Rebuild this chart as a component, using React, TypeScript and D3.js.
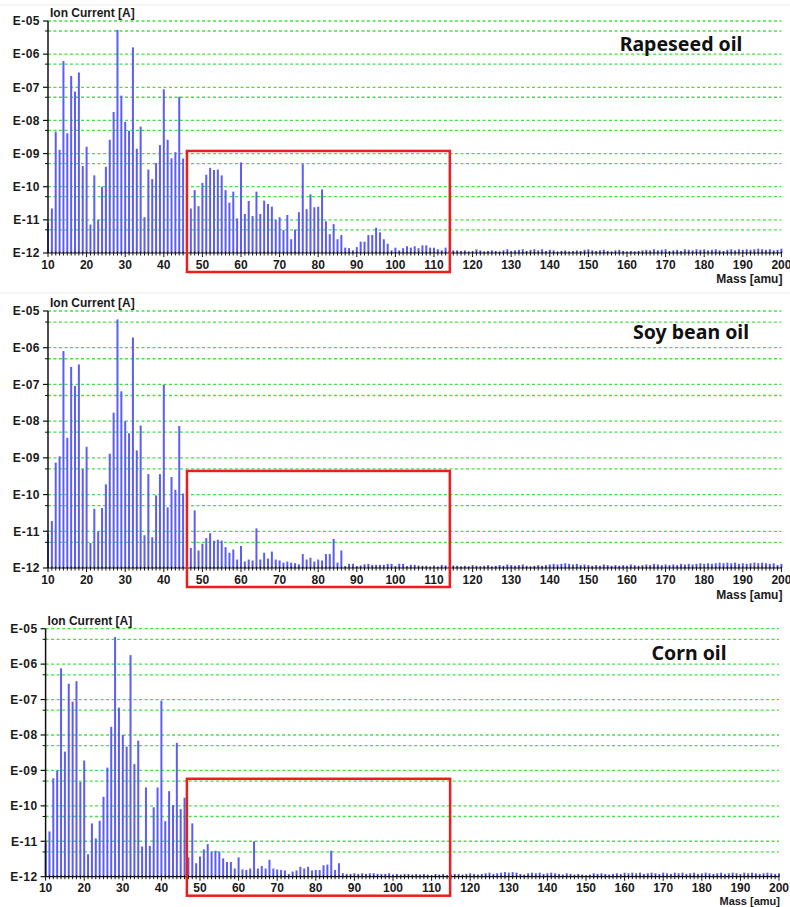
import React from "react";
import * as d3 from "d3";

// Mass axis: one bar per integer mass from 10 to 200 amu
const masses: number[] = d3.range(10, 201);

// Ion current [A] per mass, 10 … 200 amu
const rapeseedOil: number[] = [
  8.1e-12, 2.2e-11, 4.6e-9, 1.3e-9, 6.2e-7, 4.1e-9, 2.2e-7, 7.4e-8, 2.8e-7, 4.2e-10,
  1.6e-9, 7.2e-12, 2.2e-10, 1.0e-11, 1.0e-10, 4.0e-10, 2.6e-9, 1.8e-8, 5.4e-6, 5.6e-8,
  9.1e-9, 4.9e-9, 1.6e-6, 1.4e-9, 6.5e-9, 1.2e-11, 3.3e-10, 1.7e-10, 5.2e-10, 1.8e-9,
  8.7e-8, 2.6e-9, 7.2e-10, 1.1e-9, 5.2e-8, 7.1e-10, 3.2e-10, 2.2e-11, 7.9e-11, 2.6e-11,
  1.3e-10, 2.3e-10, 3.7e-10, 3.2e-10, 3.3e-10, 2.2e-10, 7.9e-11, 3.3e-11, 7.1e-11, 1.1e-11,
  5.4e-10, 1.5e-11, 3.7e-11, 1.3e-11, 7.1e-11, 1.5e-11, 3.8e-11, 3.0e-11, 2.5e-11, 1.0e-11,
  1.2e-11, 4.9e-12, 1.4e-11, 2.6e-12, 5.1e-12, 1.7e-11, 4.8e-10, 2.1e-11, 5.9e-11, 2.4e-11,
  2.5e-11, 8.3e-11, 9.1e-12, 3.7e-12, 7.4e-12, 2.6e-12, 3.5e-12, 1.45e-12, 1.4e-12, 1.2e-12,
  1.5e-12, 2.2e-12, 2.2e-12, 3.5e-12, 3.5e-12, 5.8e-12, 4.2e-12, 2.6e-12, 1.9e-12, 1.2e-12,
  1.45e-12, 1.2e-12, 1.4e-12, 1.6e-12, 1.45e-12, 1.6e-12, 1.4e-12, 1.7e-12, 1.7e-12, 1.45e-12,
  1.45e-12, 1.3e-12, 1.2e-12, 1.45e-12, 1.15e-12, 1.2e-12, 1.2e-12, 1.15e-12, 1.2e-12, 1.1e-12,
  1.15e-12, 1.3e-12, 1.2e-12, 1.1e-12, 1.15e-12, 1.2e-12, 1.15e-12, 1.1e-12, 1.2e-12, 1.3e-12,
  1.15e-12, 1.2e-12, 1.25e-12, 1.3e-12, 1.15e-12, 1.25e-12, 1.3e-12, 1.2e-12, 1.3e-12, 1.15e-12,
  1.25e-12, 1.2e-12, 1.1e-12, 1.15e-12, 1.2e-12, 1.1e-12, 1.15e-12, 1.2e-12, 1.15e-12, 1.25e-12,
  1.3e-12, 1.2e-12, 1.15e-12, 1.2e-12, 1.25e-12, 1.15e-12, 1.1e-12, 1.2e-12, 1.25e-12, 1.15e-12,
  1.1e-12, 1.15e-12, 1.1e-12, 1.15e-12, 1.2e-12, 1.25e-12, 1.2e-12, 1.3e-12, 1.2e-12, 1.25e-12,
  1.3e-12, 1.15e-12, 1.2e-12, 1.25e-12, 1.15e-12, 1.3e-12, 1.25e-12, 1.2e-12, 1.3e-12, 1.25e-12,
  1.3e-12, 1.2e-12, 1.25e-12, 1.3e-12, 1.2e-12, 1.15e-12, 1.25e-12, 1.3e-12, 1.2e-12, 1.3e-12,
  1.25e-12, 1.3e-12, 1.25e-12, 1.3e-12, 1.35e-12, 1.3e-12, 1.25e-12, 1.3e-12, 1.2e-12, 1.25e-12,
  1.35e-12,
];

const soyBeanOil: number[] = [
  8.9e-12, 1.9e-11, 7.4e-10, 1.1e-9, 8.1e-7, 3.5e-9, 3.0e-7, 9.1e-8, 3.5e-7, 4.9e-10,
  2.0e-9, 4.8e-12, 4.1e-11, 1.0e-11, 4.3e-11, 1.9e-10, 1.3e-9, 1.7e-8, 5.9e-6, 6.5e-8,
  1.0e-8, 4.7e-9, 1.9e-6, 1.6e-9, 7.6e-9, 7.8e-12, 3.6e-10, 6.9e-12, 9.5e-11, 3.6e-10,
  9.8e-8, 4.5e-11, 3.0e-10, 1.35e-10, 7.4e-9, 1.07e-10, 1.7e-10, 3.5e-12, 3.7e-11, 3.0e-12,
  4.6e-12, 6.5e-12, 8.9e-12, 5.5e-12, 5.9e-12, 5.6e-12, 3.7e-12, 2.6e-12, 3.2e-12, 1.7e-12,
  4.0e-12, 1.5e-12, 1.7e-12, 1.6e-12, 1.2e-11, 1.7e-12, 2.6e-12, 1.8e-12, 2.8e-12, 1.7e-12,
  1.6e-12, 1.4e-12, 1.5e-12, 1.4e-12, 1.35e-12, 1.26e-12, 2.4e-12, 1.7e-12, 1.9e-12, 1.5e-12,
  1.7e-12, 1.6e-12, 2.4e-12, 2.4e-12, 6.2e-12, 1.4e-12, 3.0e-12, 1.12e-12, 1.3e-12, 1.3e-12,
  1.12e-12, 1.17e-12, 1.26e-12, 1.3e-12, 1.22e-12, 1.22e-12, 1.22e-12, 1.22e-12, 1.3e-12, 1.3e-12,
  1.12e-12, 1.3e-12, 1.3e-12, 1.12e-12, 1.22e-12, 1.22e-12, 1.17e-12, 1.15e-12, 1.15e-12, 1.08e-12,
  1.17e-12, 1.08e-12, 1.22e-12, 1.17e-12, 1.1e-12, 1.17e-12, 1.15e-12, 1.1e-12, 1.15e-12, 1.1e-12,
  1.2e-12, 1.15e-12, 1.1e-12, 1.15e-12, 1.2e-12, 1.1e-12, 1.15e-12, 1.2e-12, 1.15e-12, 1.25e-12,
  1.2e-12, 1.15e-12, 1.2e-12, 1.25e-12, 1.15e-12, 1.1e-12, 1.15e-12, 1.2e-12, 1.15e-12, 1.2e-12,
  1.25e-12, 1.3e-12, 1.25e-12, 1.3e-12, 1.35e-12, 1.3e-12, 1.25e-12, 1.3e-12, 1.2e-12, 1.25e-12,
  1.2e-12, 1.15e-12, 1.2e-12, 1.15e-12, 1.25e-12, 1.2e-12, 1.15e-12, 1.2e-12, 1.15e-12, 1.2e-12,
  1.15e-12, 1.25e-12, 1.2e-12, 1.15e-12, 1.2e-12, 1.25e-12, 1.2e-12, 1.3e-12, 1.25e-12, 1.2e-12,
  1.25e-12, 1.2e-12, 1.25e-12, 1.2e-12, 1.3e-12, 1.25e-12, 1.3e-12, 1.25e-12, 1.3e-12, 1.35e-12,
  1.3e-12, 1.35e-12, 1.3e-12, 1.35e-12, 1.4e-12, 1.35e-12, 1.4e-12, 1.35e-12, 1.4e-12, 1.3e-12,
  1.35e-12, 1.3e-12, 1.35e-12, 1.4e-12, 1.35e-12, 1.4e-12, 1.35e-12, 1.3e-12, 1.35e-12, 1.2e-12,
  1.3e-12,
];

const cornOil: number[] = [
  9.1e-12, 1.9e-11, 6.0e-10, 1.0e-9, 7.6e-7, 3.4e-9, 2.8e-7, 8.7e-8, 3.3e-7, 4.7e-10,
  1.9e-9, 4.3e-12, 3.2e-11, 1.2e-11, 3.8e-11, 1.8e-10, 1.2e-9, 1.7e-8, 5.8e-6, 5.9e-8,
  1.0e-8, 4.7e-9, 1.8e-6, 1.5e-9, 6.9e-9, 7.1e-12, 3.3e-10, 7.4e-12, 9.1e-11, 3.3e-10,
  9.3e-8, 3.7e-11, 2.6e-10, 1.05e-10, 6.0e-9, 8.1e-11, 1.7e-10, 3.5e-12, 3.2e-11, 2.4e-12,
  3.7e-12, 5.9e-12, 8.3e-12, 5.1e-12, 5.4e-12, 5.1e-12, 3.3e-12, 2.6e-12, 2.6e-12, 1.7e-12,
  3.5e-12, 1.6e-12, 1.55e-12, 1.7e-12, 1.0e-11, 1.7e-12, 2.0e-12, 1.7e-12, 3.0e-12, 1.7e-12,
  1.6e-12, 1.55e-12, 1.5e-12, 1.2e-12, 1.4e-12, 1.5e-12, 1.9e-12, 1.7e-12, 1.9e-12, 1.5e-12,
  1.55e-12, 1.55e-12, 2.1e-12, 2.2e-12, 5.4e-12, 1.55e-12, 2.4e-12, 1.26e-12, 1.2e-12, 1.2e-12,
  1.25e-12, 1.2e-12, 1.25e-12, 1.2e-12, 1.25e-12, 1.25e-12, 1.2e-12, 1.2e-12, 1.2e-12, 1.25e-12,
  1.15e-12, 1.2e-12, 1.15e-12, 1.2e-12, 1.2e-12, 1.15e-12, 1.2e-12, 1.15e-12, 1.2e-12, 1.15e-12,
  1.1e-12, 1.2e-12, 1.15e-12, 1.2e-12, 1.1e-12, 1.15e-12, 1.2e-12, 1.2e-12, 1.15e-12, 1.2e-12,
  1.25e-12, 1.2e-12, 1.15e-12, 1.2e-12, 1.25e-12, 1.3e-12, 1.2e-12, 1.25e-12, 1.3e-12, 1.35e-12,
  1.3e-12, 1.35e-12, 1.3e-12, 1.2e-12, 1.15e-12, 1.25e-12, 1.3e-12, 1.25e-12, 1.3e-12, 1.2e-12,
  1.25e-12, 1.3e-12, 1.25e-12, 1.2e-12, 1.15e-12, 1.25e-12, 1.2e-12, 1.15e-12, 1.2e-12, 1.15e-12,
  1.1e-12, 1.15e-12, 1.25e-12, 1.2e-12, 1.25e-12, 1.2e-12, 1.15e-12, 1.2e-12, 1.25e-12, 1.2e-12,
  1.3e-12, 1.25e-12, 1.3e-12, 1.25e-12, 1.3e-12, 1.2e-12, 1.25e-12, 1.3e-12, 1.25e-12, 1.2e-12,
  1.3e-12, 1.25e-12, 1.2e-12, 1.3e-12, 1.25e-12, 1.3e-12, 1.2e-12, 1.25e-12, 1.3e-12, 1.2e-12,
  1.25e-12, 1.3e-12, 1.25e-12, 1.2e-12, 1.25e-12, 1.3e-12, 1.2e-12, 1.25e-12, 1.3e-12, 1.25e-12,
  1.2e-12, 1.3e-12, 1.25e-12, 1.3e-12, 1.25e-12, 1.2e-12, 1.25e-12, 1.3e-12, 1.25e-12, 1.2e-12,
  1.25e-12,
];

const sampleNames: string[] = ["Rapeseed oil", "Soy bean oil", "Corn oil"];
const sampleSeries: number[][] = [rapeseedOil, soyBeanOil, cornOil];

// Region of interest outlined in each spectrum: mass range and upper current
const highlightMass: [number, number][] = [[46.0, 114.1], [46.0, 114.1], [46.6, 114.8]];
const highlightTop: number[] = [1.2e-9, 4.4e-10, 5.8e-10];

// Axis ticks
const yDecades: number[] = [1e-5, 1e-6, 1e-7, 1e-8, 1e-9, 1e-10, 1e-11, 1e-12];
const yDecadeLabels: string[] = ["E-05", "E-06", "E-07", "E-08", "E-09", "E-10", "E-11", "E-12"];
const yHalfDecades: number[] = [5e-6, 5e-7, 5e-8, 5e-9, 5e-10, 5e-11, 5e-12];
const xTickValues: number[] = d3.range(10, 201, 10);

const yAxisTitle = "Ion Current [A]";
const xAxisTitle = "Mass [amu]";

// Panel geometry
const W = 790;
const H = 907;
const panels = [
  { top: 21, bottom: 253, left: 48, titleX: 681, titleY: 51, frameY: 5, massDy: 30, massSize: 12 },
  { top: 311, bottom: 568, left: 48, titleX: 691, titleY: 339, frameY: 293, massDy: 30.5, massSize: 12 },
  { top: 628.7, bottom: 876.7, left: 45.6, titleX: 689, titleY: 660, frameY: null as number | null, massDy: 28, massSize: 11 },
];
const PX_PER_AMU = 3.86;

const BAR_COLOR = "#5c5cf6";
const GRID_COLOR = "#44e044";
const BOX_COLOR = "#ee1c1c";
const LABEL_FONT = "'Liberation Sans', Arial, sans-serif";
const TITLE_FONT = "'Noto Sans', 'Open Sans', sans-serif";

function Spectrum({ index }: { index: number }) {
  const p = panels[index];
  const values = sampleSeries[index];
  const x = d3.scaleLinear().domain([10, 200]).range([p.left, p.left + 190 * PX_PER_AMU]);
  const y = d3.scaleLog().domain([1e-12, 1e-5]).range([p.bottom, p.top]);
  const [x0, x1] = x.range();
  const base = y(1e-12);
  const [hm0, hm1] = highlightMass[index];

  return (
    <g>
      {p.frameY !== null && (
        <line x1={0} x2={W} y1={p.frameY} y2={p.frameY} stroke="#ececec" strokeWidth={1} />
      )}

      {/* horizontal grid */}
      {[...yDecades.slice(0, -1), ...yHalfDecades].map((v, i) => (
        <line
          key={"g" + i}
          x1={x0}
          x2={x1}
          y1={y(v)}
          y2={y(v)}
          stroke={GRID_COLOR}
          strokeWidth={1.3}
          strokeDasharray="3,2.5"
        />
      ))}

      {/* spectrum bars */}
      {masses.map((m, i) => (
        <line
          key={"b" + m}
          x1={x(m)}
          x2={x(m)}
          y1={base}
          y2={y(values[i])}
          stroke={BAR_COLOR}
          strokeWidth={2}
        />
      ))}

      {/* y axis */}
      <line x1={x0} x2={x0} y1={y(1e-5)} y2={base} stroke="#111" strokeWidth={1.5} />
      {yDecades.map((v, i) => (
        <g key={"yt" + i}>
          <line x1={x0 - 5} x2={x0} y1={y(v)} y2={y(v)} stroke="#111" strokeWidth={1.2} />
          <text
            x={x0 - 8}
            y={y(v)}
            dy="0.36em"
            textAnchor="end"
            fontFamily={LABEL_FONT}
            fontWeight="bold"
            fontSize={12}
            letterSpacing={0.5}
            fill="#1a1a1a"
          >
            {yDecadeLabels[i]}
          </text>
        </g>
      ))}
      {yHalfDecades.map((v, i) => (
        <line key={"yh" + i} x1={x0 - 3} x2={x0} y1={y(v)} y2={y(v)} stroke="#111" strokeWidth={1} />
      ))}

      {/* x axis */}
      <line x1={x0} x2={x1} y1={base} y2={base} stroke="#111" strokeWidth={1.2} />
      {masses.map((m) => (
        <line
          key={"xt" + m}
          x1={x(m)}
          x2={x(m)}
          y1={base - 1.5}
          y2={base + (m % 10 === 0 ? 4 : 2.5)}
          stroke="#111"
          strokeWidth={1}
        />
      ))}
      {xTickValues.map((m) => (
        <text
          key={"xl" + m}
          x={x(m)}
          y={base + 15.5}
          textAnchor="middle"
          fontFamily={LABEL_FONT}
          fontWeight="bold"
          fontSize={12}
          fill="#1a1a1a"
        >
          {m}
        </text>
      ))}

      {/* axis titles */}
      <text
        x={x0 + 2}
        y={p.top - 4}
        fontFamily={LABEL_FONT}
        fontWeight="bold"
        fontSize={12}
        fill="#1a1a1a"
      >
        {yAxisTitle}
      </text>
      <text
        x={x1 + 1}
        y={base + p.massDy}
        textAnchor="end"
        fontFamily={LABEL_FONT}
        fontWeight="bold"
        fontSize={p.massSize}
        fill="#1a1a1a"
      >
        {xAxisTitle}
      </text>

      {/* sample name */}
      <text
        x={p.titleX}
        y={p.titleY}
        textAnchor="middle"
        fontFamily={TITLE_FONT}
        fontWeight="bold"
        fontSize={19.5}
        fill="#111"
      >
        {sampleNames[index]}
      </text>

      {/* region of interest */}
      <rect
        x={x(hm0)}
        y={y(highlightTop[index])}
        width={x(hm1) - x(hm0)}
        height={base + 19 - y(highlightTop[index])}
        fill="none"
        stroke={BOX_COLOR}
        strokeWidth={2.5}
      />
    </g>
  );
}

export default function App() {
  return (
    <svg
      width={W}
      height={H}
      viewBox={`0 0 ${W} ${H}`}
      style={{ position: "absolute", left: 0, top: 0, background: "#fff" }}
    >
      <rect x={0} y={0} width={W} height={H} fill="#fff" />
      {panels.map((_, i) => (
        <Spectrum key={i} index={i} />
      ))}
    </svg>
  );
}
